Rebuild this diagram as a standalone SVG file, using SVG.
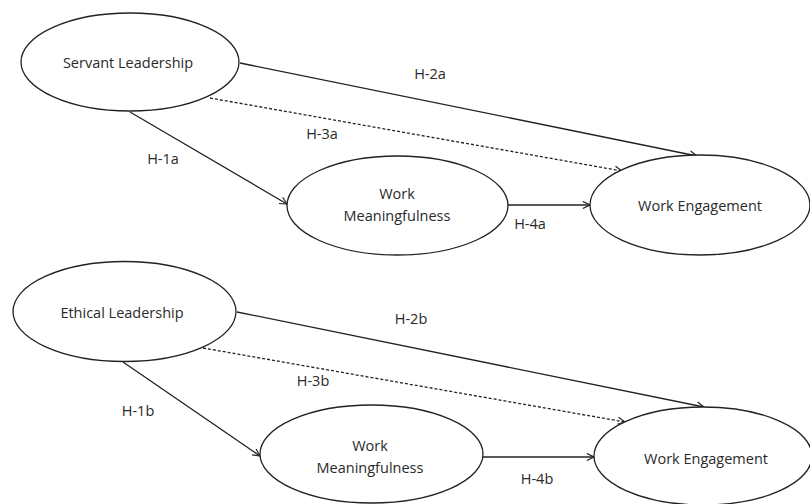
<svg xmlns="http://www.w3.org/2000/svg" width="810" height="504" viewBox="0 0 810 504">
<style>
.node ellipse{fill:#fff;stroke:#222;stroke-width:1.3}
text{font-family:"Open Sans","Liberation Sans",sans-serif;font-size:14.5px;fill:#2a2a2a;text-anchor:middle;dominant-baseline:central}
.edge{stroke:#222;stroke-width:1.3;fill:none;marker-end:url(#arr)}
.dash{stroke-dasharray:3,2}
</style>
<defs>
<marker id="arr" viewBox="0 0 10 10" refX="9" refY="5" markerWidth="9" markerHeight="9" markerUnits="userSpaceOnUse" orient="auto">
<path d="M1,1 L9,5 L1,9" fill="none" stroke="#222" stroke-width="1.3"/>
</marker>
</defs>
<g id="connectors">
<line class="edge" x1="240" y1="63" x2="697" y2="156"/>
<line class="edge dash" x1="210" y1="98" x2="622" y2="171"/>
<line class="edge" x1="130" y1="112" x2="287" y2="204"/>
<line class="edge" x1="508" y1="205" x2="590" y2="205"/>
<line class="edge" x1="237" y1="312" x2="704" y2="407"/>
<line class="edge dash" x1="203" y1="348" x2="625" y2="422"/>
<line class="edge" x1="123" y1="362" x2="260" y2="456"/>
<line class="edge" x1="483" y1="457" x2="594" y2="457"/>
<text x="430" y="73">H-2a</text>
<text x="322" y="133">H-3a</text>
<text x="163" y="158">H-1a</text>
<text x="530" y="223">H-4a</text>
<text x="411" y="318">H-2b</text>
<text x="313" y="380">H-3b</text>
<text x="138" y="410">H-1b</text>
<text x="537" y="478">H-4b</text>
</g>
<g id="servant" class="node"><ellipse cx="130" cy="62" rx="109" ry="49"/><text x="128" y="62">Servant Leadership</text></g>
<g id="meaning1" class="node"><ellipse cx="397.5" cy="205.5" rx="110.5" ry="49.5"/><text x="397" y="193">Work</text><text x="397" y="215">Meaningfulness</text></g>
<g id="engage1" class="node"><ellipse cx="700" cy="205" rx="110" ry="50"/><text x="700" y="205">Work Engagement</text></g>
<g id="ethical" class="node"><ellipse cx="124.5" cy="311.5" rx="111.5" ry="50"/><text x="122" y="312">Ethical Leadership</text></g>
<g id="meaning2" class="node"><ellipse cx="371.5" cy="454" rx="111.5" ry="49"/><text x="370" y="445">Work</text><text x="370" y="467">Meaningfulness</text></g>
<g id="engage2" class="node"><ellipse cx="703" cy="456" rx="109" ry="49"/><text x="706" y="458">Work Engagement</text></g>
</svg>
